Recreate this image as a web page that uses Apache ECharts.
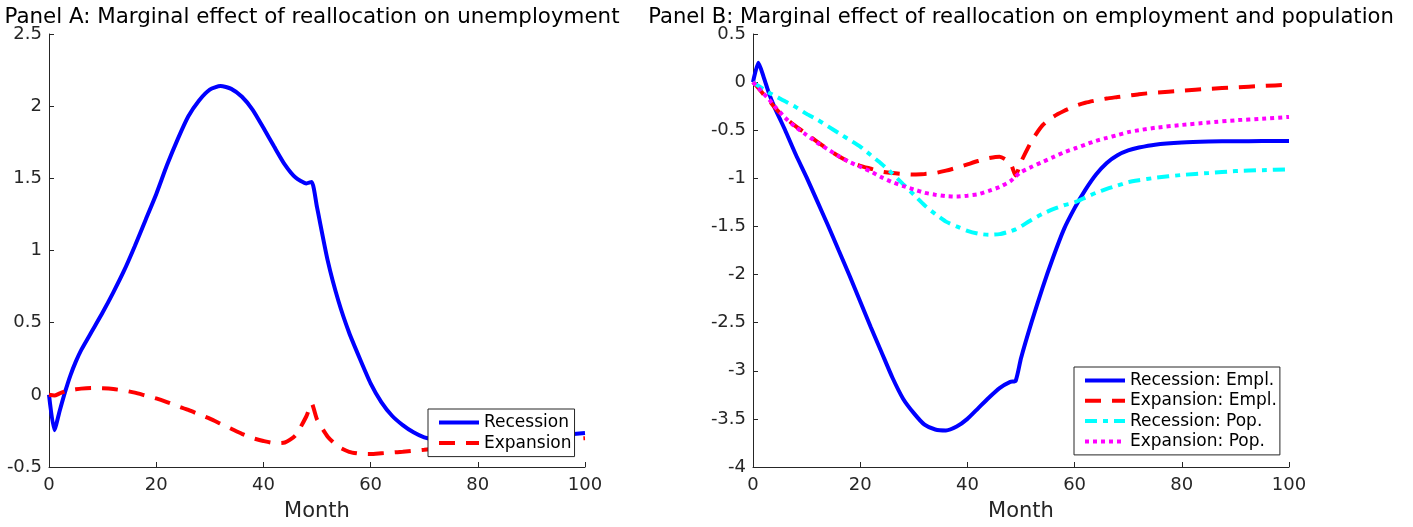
<!DOCTYPE html>
<html>
<head>
<meta charset="utf-8">
<script src="https://cdn.jsdelivr.net/npm/echarts@6/dist/echarts.min.js"></script>
<style>
html,body{margin:0;padding:0;background:#fff;}
#c{width:1413px;height:527px;}
</style>
</head>
<body>
<div id="c"></div>
<script>
const months = [0,1,2,3,4,5,6,8,10,12,14,16,18,20,22,24,26,28,30,32,34,36,38,40,42,44,46,48,49,50,52,54,56,58,60,62,64,66,68,70,72,75,80,85,90,95,100];

// Panel A
const unempRecession = [0,-0.245,-0.11,0.02,0.135,0.23,0.31,0.44,0.57,0.71,0.86,1.03,1.21,1.39,1.59,1.77,1.93,2.04,2.115,2.14,2.12,2.065,1.975,1.85,1.72,1.595,1.505,1.465,1.475,1.30,0.93,0.65,0.43,0.25,0.08,-0.05,-0.145,-0.21,-0.26,-0.295,-0.31,-0.32,-0.32,-0.31,-0.295,-0.28,-0.265];
const unempExpansion = [0,-0.005,0.01,0.023,0.032,0.038,0.043,0.047,0.045,0.04,0.03,0.015,-0.005,-0.025,-0.05,-0.078,-0.105,-0.135,-0.165,-0.2,-0.235,-0.27,-0.3,-0.32,-0.334,-0.33,-0.28,-0.15,-0.06,-0.17,-0.29,-0.36,-0.395,-0.408,-0.41,-0.405,-0.4,-0.394,-0.387,-0.38,-0.373,-0.365,-0.35,-0.335,-0.32,-0.31,-0.30];

// Panel B
const emplRecession = [0,0.2,0.05,-0.12,-0.26,-0.38,-0.50,-0.755,-0.99,-1.24,-1.49,-1.75,-2.01,-2.28,-2.55,-2.81,-3.07,-3.29,-3.44,-3.56,-3.61,-3.62,-3.58,-3.50,-3.39,-3.28,-3.18,-3.115,-3.105,-2.87,-2.49,-2.14,-1.82,-1.53,-1.31,-1.12,-0.96,-0.84,-0.76,-0.71,-0.68,-0.65,-0.628,-0.618,-0.614,-0.613,-0.613];
const emplExpansion = [0,-0.06,-0.13,-0.19,-0.26,-0.32,-0.37,-0.46,-0.54,-0.62,-0.70,-0.77,-0.83,-0.87,-0.90,-0.93,-0.945,-0.955,-0.96,-0.955,-0.945,-0.92,-0.89,-0.855,-0.82,-0.79,-0.775,-0.84,-0.97,-0.83,-0.61,-0.45,-0.36,-0.30,-0.25,-0.215,-0.19,-0.17,-0.155,-0.14,-0.125,-0.11,-0.09,-0.07,-0.055,-0.04,-0.028];
const popRecession = [0,-0.04,-0.075,-0.11,-0.14,-0.17,-0.2,-0.26,-0.33,-0.39,-0.46,-0.53,-0.60,-0.67,-0.76,-0.85,-0.95,-1.06,-1.17,-1.28,-1.37,-1.45,-1.50,-1.545,-1.575,-1.587,-1.58,-1.55,-1.53,-1.50,-1.43,-1.37,-1.32,-1.28,-1.25,-1.20,-1.15,-1.11,-1.075,-1.04,-1.02,-0.995,-0.965,-0.945,-0.925,-0.915,-0.907];
const popExpansion = [0,-0.06,-0.12,-0.18,-0.25,-0.31,-0.37,-0.47,-0.55,-0.63,-0.70,-0.77,-0.83,-0.88,-0.93,-0.99,-1.04,-1.08,-1.115,-1.15,-1.17,-1.185,-1.19,-1.18,-1.165,-1.13,-1.09,-1.03,-0.98,-0.935,-0.88,-0.83,-0.78,-0.73,-0.69,-0.65,-0.61,-0.58,-0.55,-0.52,-0.5,-0.475,-0.445,-0.42,-0.397,-0.38,-0.362];

const xTicks = [0,20,40,60,80,100];

function pairs(vals){ return months.map((m,i)=>[m, vals[i]]); }

const FONT = 'DejaVu Sans';
const axisCol = '#262626';

function xAxisCfg(gi){
  return {
    type:'value', gridIndex:gi, min:xTicks[0], max:xTicks[xTicks.length-1], interval:xTicks[1]-xTicks[0],
    name:'Month', nameLocation:'middle', nameGap:34,
    nameTextStyle:{fontFamily:FONT,fontSize:21,color:axisCol},
    axisLine:{show:true,onZero:false,lineStyle:{color:axisCol,width:1}},
    axisTick:{show:true,inside:true,length:5,lineStyle:{color:axisCol}},
    axisLabel:{fontFamily:FONT,fontSize:18,color:axisCol,margin:9},
    splitLine:{show:false}
  };
}
function yAxisCfg(gi,min,max){
  return {
    type:'value', gridIndex:gi, min:min, max:max, interval:0.5,
    axisLine:{show:true,onZero:false,lineStyle:{color:axisCol,width:1}},
    axisTick:{show:true,inside:true,length:5,lineStyle:{color:axisCol}},
    axisLabel:{fontFamily:FONT,fontSize:18,color:axisCol,margin:7},
    splitLine:{show:false}
  };
}
function line(name, vals, gi, color, type, width){
  return {
    name:name, type:'line', xAxisIndex:gi, yAxisIndex:gi,
    data:pairs(vals), symbol:'none', showSymbol:false,
    smooth:0.2, animation:false,
    lineStyle:{color:color,width:width,type:type,cap:'butt'},
    itemStyle:{color:color}
  };
}
const legendBase = {
  orient:'vertical', icon:'inherit', itemWidth:40, itemHeight:14,
  padding:[5,3,5,9], borderColor:'#262626', borderWidth:1, backgroundColor:'#fff',
  itemStyle:{opacity:0},
  lineStyle:{width:4},
  textStyle:{fontFamily:FONT,fontSize:17,color:'#000'}
};

const chart = echarts.init(document.getElementById('c'), null, {renderer:'canvas'});
chart.setOption({
  backgroundColor:'#fff',
  animation:false,
  title:[
    {text:'Panel A: Marginal effect of reallocation on unemployment', left:307, top:2, textAlign:'center',
     textStyle:{fontFamily:FONT,fontSize:21.4,fontWeight:'normal',color:'#000'}},
    {text:'Panel B: Marginal effect of reallocation on employment and population', left:1016, top:2, textAlign:'center',
     textStyle:{fontFamily:FONT,fontSize:21.1,fontWeight:'normal',color:'#000'}}
  ],
  grid:[
    {left:49, right:828, top:34, bottom:58, containLabel:false},
    {left:753, right:124, top:34, bottom:58, containLabel:false}
  ],
  xAxis:[xAxisCfg(0), xAxisCfg(1)],
  yAxis:[yAxisCfg(0,-0.5,2.5), yAxisCfg(1,-4,0.5)],
  legend:[
    Object.assign({}, legendBase, {data:['Recession','Expansion'], left:428, top:409, itemGap:3.6}),
    Object.assign({}, legendBase, {data:['Recession: Empl.','Expansion: Empl.','Recession: Pop.','Expansion: Pop.'], left:1074, top:367, itemGap:3.3})
  ],
  series:[
    line('Recession', unempRecession, 0, '#0000ff', 'solid', 4),
    line('Expansion', unempExpansion, 0, '#ff0000', [16,11], 4),
    line('Recession: Empl.', emplRecession, 1, '#0000ff', 'solid', 4),
    line('Expansion: Empl.', emplExpansion, 1, '#ff0000', [16,11], 4),
    line('Recession: Pop.', popRecession, 1, '#00ffff', [12,6,5,6], 4),
    line('Expansion: Pop.', popExpansion, 1, '#ff00ff', [4,4], 4)
  ]
});
</script>
</body>
</html>
